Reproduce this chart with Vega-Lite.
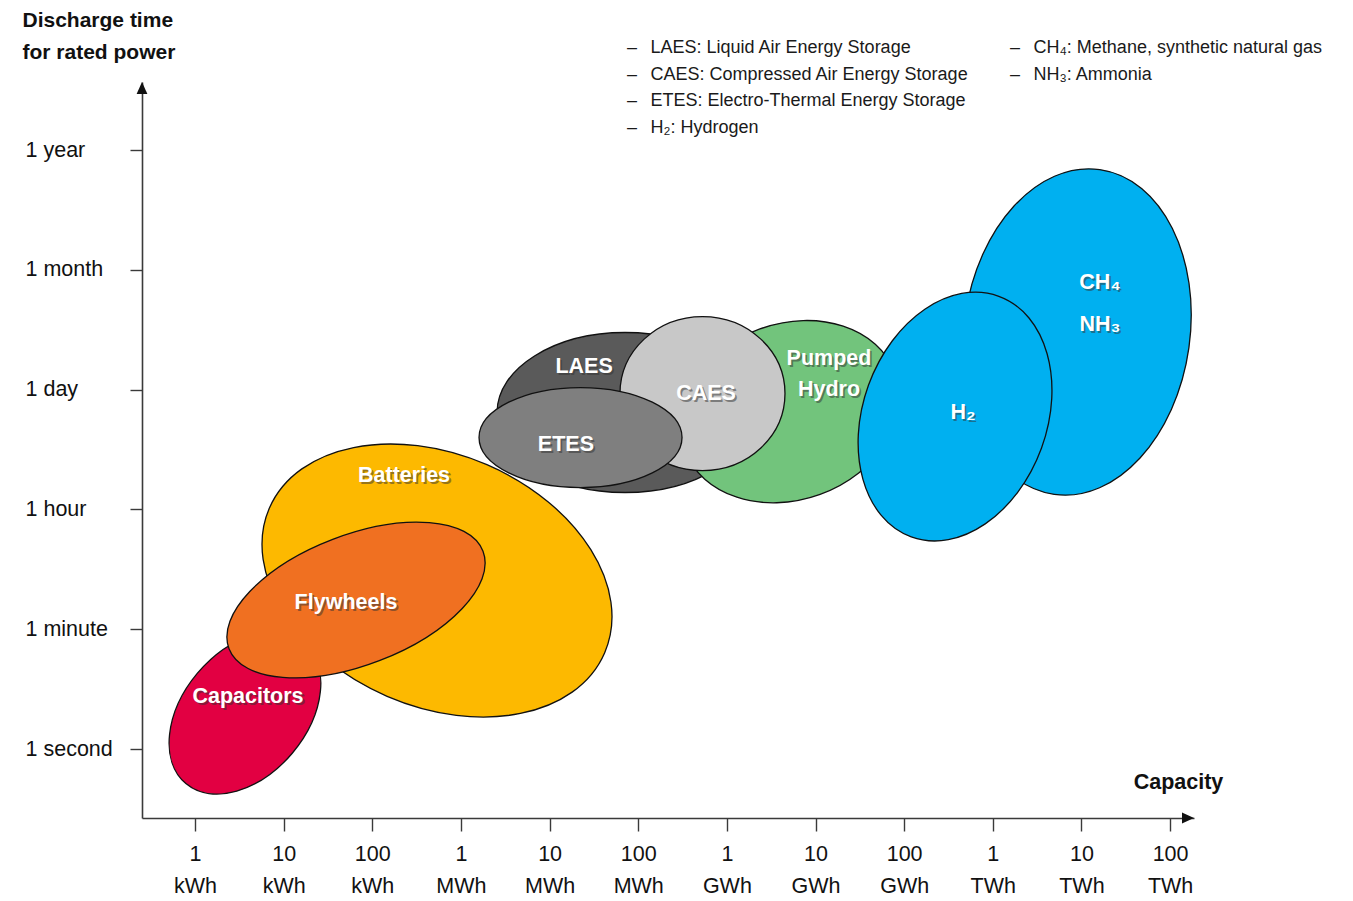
{
  "$schema": "https://vega.github.io/schema/vega-lite/v6.json",
  "width": 1052,
  "height": 736,
  "autosize": {"type": "none"},
  "padding": {"left": 142, "top": 82, "right": 159, "bottom": 83},
  "background": "white",
  "config": {
    "view": {"stroke": null},
    "font": "'Liberation Sans', Arial, sans-serif"
  },
  "datasets": {
    "storage": [
      {"tech": "Batteries", "capacity_kwh": 537, "time_level": 1.4065},
      {"tech": "Capacitors", "capacity_kwh": 3.66, "time_level": 0.30},
      {"tech": "Flywheels", "capacity_kwh": 65.5, "time_level": 1.244},
      {"tech": "LAES", "capacity_kwh": 71000, "time_level": 2.809},
      {"tech": "Pumped Hydro", "capacity_kwh": 5160000, "time_level": 2.816},
      {"tech": "CAES", "capacity_kwh": 531000, "time_level": 2.967},
      {"tech": "ETES", "capacity_kwh": 22340, "time_level": 2.60},
      {"tech": "CH4 / NH3", "capacity_kwh": 8920000000, "time_level": 3.481},
      {"tech": "H2", "capacity_kwh": 375000000, "time_level": 2.775}
    ],
    "names": [
      {"name": "Capacitors", "capacity_kwh": 3.96, "time_level": 0.434},
      {"name": "Batteries", "capacity_kwh": 228, "time_level": 2.279},
      {"name": "Flywheels", "capacity_kwh": 50.5, "time_level": 1.219},
      {"name": "LAES", "capacity_kwh": 24500, "time_level": 3.189},
      {"name": "ETES", "capacity_kwh": 15300, "time_level": 2.538},
      {"name": "CAES", "capacity_kwh": 582000, "time_level": 2.963},
      {"name": "Pumped", "capacity_kwh": 14200000, "time_level": 3.255},
      {"name": "Hydro", "capacity_kwh": 14200000, "time_level": 2.997},
      {"name": "H₂", "capacity_kwh": 462000000, "time_level": 2.805},
      {"name": "CH₄", "capacity_kwh": 16200000000, "time_level": 3.890},
      {"name": "NH₃", "capacity_kwh": 16200000000, "time_level": 3.539}
    ],
    "notes": [
      {"col": 1, "row": 1, "note": "LAES: Liquid Air Energy Storage"},
      {"col": 1, "row": 2, "note": "CAES: Compressed Air Energy Storage"},
      {"col": 1, "row": 3, "note": "ETES: Electro-Thermal Energy Storage"},
      {"col": 1, "row": 4, "note": "H₂: Hydrogen"},
      {"col": 2, "row": 1, "note": "CH₄: Methane, synthetic natural gas"},
      {"col": 2, "row": 2, "note": "NH₃: Ammonia"}
    ]
  },
  "layer": [
    {
      "layer": [
        {
          "data": {"name": "storage"},
          "mark": {"type": "point", "filled": true, "opacity": 1, "stroke": "#111111", "strokeWidth": 1.3, "size": 40000},
          "encoding": {
            "x": {
              "field": "capacity_kwh", "type": "quantitative", "title": "Capacity",
              "scale": {"type": "log", "domain": [0.2523, 186200000000], "nice": false},
              "axis": {
                "values": [1, 10, 100, 1000, 10000, 100000, 1000000, 10000000, 100000000, 1000000000, 10000000000, 100000000000],
                "labelExpr": "[['1','10','100'][round(log(datum.value)/LN10) % 3], ['kWh','MWh','GWh','TWh'][floor(round(log(datum.value)/LN10) / 3)]]",
                "grid": false,
                "domainColor": "#3a3a3a", "domainWidth": 1.6,
                "tickColor": "#3a3a3a", "tickWidth": 1.4, "tickSize": 13,
                "labelFontSize": 21.5, "labelColor": "#111111", "labelPadding": 12,
                "labelLineHeight": 32, "labelBaseline": "top", "labelAngle": 0,
                "labelFlush": false, "labelOverlap": false,
                "titleFontSize": 21.5, "titleFontWeight": "bold", "titleColor": "#111111",
                "titleX": 1036, "titleY": -30, "titleAlign": "center", "titleBaseline": "alphabetic"
              }
            },
            "y": {
              "field": "time_level", "type": "quantitative", "title": ["Discharge time", "for rated power"],
              "scale": {"domain": [-0.576, 5.568], "nice": false, "zero": false},
              "axis": {
                "values": [0, 1, 2, 3, 4, 5],
                "labelExpr": "['1 second','1 minute','1 hour','1 day','1 month','1 year'][round(datum.value)]",
                "grid": false,
                "domainColor": "#3a3a3a", "domainWidth": 1.6,
                "tickColor": "#3a3a3a", "tickWidth": 1.4, "tickSize": 12,
                "labelFontSize": 21.5, "labelColor": "#111111", "labelPadding": 105,
                "labelAlign": "left", "labelBaseline": "middle", "labelFlush": false, "labelOverlap": false,
                "titleFontSize": 21, "titleFontWeight": "bold", "titleColor": "#111111",
                "titleAngle": 0, "titleAlign": "left", "titleBaseline": "alphabetic",
                "titleX": -120, "titleY": -56, "titleLineHeight": 32
              }
            },
            "shape": {
              "field": "tech", "type": "nominal", "legend": null,
              "scale": {
                "domain": ["Batteries", "Capacitors", "Flywheels", "LAES", "Pumped Hydro", "CAES", "ETES", "CH4 / NH3", "H2"],
                "range": [
                  "M1.677,0.722C1.402,1.362 0.428,1.557 -0.499,1.158C-1.425,0.759 -1.952,-0.083 -1.677,-0.722C-1.402,-1.362 -0.428,-1.557 0.499,-1.158C1.425,-0.759 1.952,0.083 1.677,0.722Z",
                  "M0.591,-0.705C0.854,-0.485 0.802,0.009 0.475,0.399C0.148,0.788 -0.329,0.925 -0.591,0.705C-0.854,0.485 -0.802,-0.009 -0.475,-0.399C-0.148,-0.788 0.329,-0.925 0.591,-0.705Z",
                  "M1.270,-0.487C1.398,-0.152 0.934,0.338 0.233,0.607C-0.468,0.876 -1.141,0.823 -1.270,0.487C-1.398,0.152 -0.934,-0.338 -0.233,-0.607C0.468,-0.876 1.141,-0.823 1.270,-0.487Z",
                  "M1.28,0C1.28,0.442 0.707,0.8 0,0.8C-0.707,0.8 -1.28,0.442 -1.28,0C-1.28,-0.442 -0.707,-0.8 0,-0.8C0.707,-0.8 1.28,-0.442 1.28,0Z",
                  "M1.053,-0.383C1.219,0.074 0.882,0.615 0.301,0.827C-0.280,1.038 -0.886,0.840 -1.053,0.383C-1.219,-0.074 -0.882,-0.615 -0.301,-0.827C0.280,-1.038 0.886,-0.840 1.053,-0.383Z",
                  "M0.825,0C0.825,0.425 0.456,0.77 0,0.77C-0.456,0.77 -0.825,0.425 -0.825,0C-0.825,-0.425 -0.456,-0.77 0,-0.77C0.456,-0.77 0.825,-0.425 0.825,0Z",
                  "M1.015,0C1.015,0.276 0.561,0.5 0,0.5C-0.561,0.5 -1.015,0.276 -1.015,0C-1.015,-0.276 -0.561,-0.5 0,-0.5C0.561,-0.5 1.015,-0.276 1.015,0Z",
                  "M0.228,-1.624C0.846,-1.537 1.245,-0.740 1.119,0.157C0.993,1.054 0.390,1.711 -0.228,1.624C-0.846,1.537 -1.245,0.740 -1.119,-0.157C-0.993,-1.054 -0.390,-1.711 0.228,-1.624Z",
                  "M0.438,-1.203C0.915,-1.029 1.106,-0.350 0.865,0.315C0.623,0.979 0.040,1.377 -0.438,1.203C-0.915,1.029 -1.106,0.350 -0.865,-0.315C-0.623,-0.979 -0.040,-1.377 0.438,-1.203Z"
                ]
              }
            },
            "color": {
              "field": "tech", "type": "nominal", "legend": null,
              "scale": {
                "domain": ["Batteries", "Capacitors", "Flywheels", "LAES", "Pumped Hydro", "CAES", "ETES", "CH4 / NH3", "H2"],
                "range": ["#FDB900", "#E20042", "#F07021", "#5A5A5A", "#72C47C", "#C8C8C8", "#7F7F7F", "#00B0F0", "#00B0F0"]
              }
            }
          }
        },
        {
          "data": {"name": "names"},
          "mark": {"type": "text", "align": "center", "baseline": "middle", "fontSize": 21.5, "fontWeight": "bold", "fill": "#333333", "opacity": 0.5, "dx": 1.8, "dy": 1.8},
          "encoding": {
            "x": {"field": "capacity_kwh", "type": "quantitative", "title": "Capacity", "scale": {"type": "log", "domain": [0.2523, 186200000000], "nice": false}},
            "y": {"field": "time_level", "type": "quantitative", "title": ["Discharge time", "for rated power"], "scale": {"domain": [-0.576, 5.568], "nice": false, "zero": false}},
            "text": {"field": "name"}
          }
        },
        {
          "data": {"name": "names"},
          "mark": {"type": "text", "align": "center", "baseline": "middle", "fontSize": 21.5, "fontWeight": "bold", "fill": "white"},
          "encoding": {
            "x": {"field": "capacity_kwh", "type": "quantitative", "title": "Capacity", "scale": {"type": "log", "domain": [0.2523, 186200000000], "nice": false}},
            "y": {"field": "time_level", "type": "quantitative", "title": ["Discharge time", "for rated power"], "scale": {"domain": [-0.576, 5.568], "nice": false, "zero": false}},
            "text": {"field": "name"}
          }
        },
        {
          "data": {"values": [{"arrow": "capacity"}]},
          "mark": {"type": "point", "shape": "M0,0L-1,-0.45L-1,0.45Z", "size": 576, "filled": true, "fill": "#111111", "opacity": 1, "strokeWidth": 0},
          "encoding": {
            "x": {"datum": 186200000000, "type": "quantitative", "scale": {"type": "log", "domain": [0.2523, 186200000000], "nice": false}},
            "y": {"datum": -0.576, "type": "quantitative", "scale": {"domain": [-0.576, 5.568], "nice": false, "zero": false}}
          }
        },
        {
          "data": {"values": [{"arrow": "discharge time"}]},
          "mark": {"type": "point", "shape": "M0,0L-0.45,1L0.45,1Z", "size": 576, "filled": true, "fill": "#111111", "opacity": 1, "strokeWidth": 0},
          "encoding": {
            "x": {"datum": 0.2523, "type": "quantitative", "scale": {"type": "log", "domain": [0.2523, 186200000000], "nice": false}},
            "y": {"datum": 5.568, "type": "quantitative", "scale": {"domain": [-0.576, 5.568], "nice": false, "zero": false}}
          }
        }
      ]
    },
    {
      "data": {"name": "notes"},
      "encoding": {
        "x": {"field": "col", "type": "quantitative", "scale": {"domain": [-0.2663, 2.4804], "nice": false, "zero": false}, "axis": null},
        "y": {"field": "row", "type": "quantitative", "scale": {"domain": [2.275, 29.875], "reverse": true, "nice": false, "zero": false}, "axis": null}
      },
      "layer": [
        {"mark": {"type": "text", "text": "–", "align": "left", "baseline": "middle", "fontSize": 18, "fill": "#1a1a1a"}},
        {"mark": {"type": "text", "align": "left", "baseline": "middle", "fontSize": 18, "fill": "#1a1a1a", "dx": 23.5}, "encoding": {"text": {"field": "note"}}}
      ]
    }
  ],
  "resolve": {"scale": {"x": "independent", "y": "independent"}}
}
